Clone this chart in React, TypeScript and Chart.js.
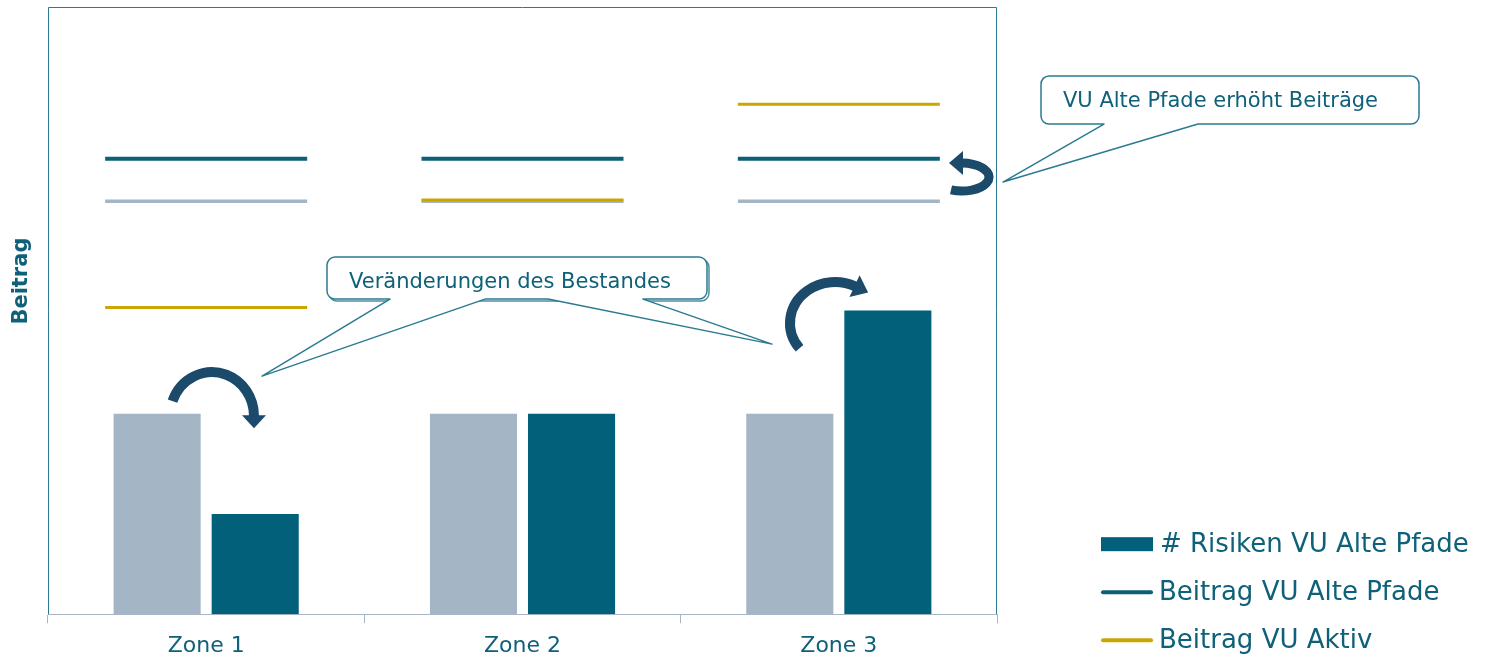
import React, { useEffect, useRef } from 'react';
import { Chart, registerables } from 'chart.js';

Chart.register(...registerables);

// ---- data ----
const categories = ['Zone 1', 'Zone 2', 'Zone 3'];
const risikenAktiv = [33, 33, 33];
const risikenAltePfade = [16.5, 33, 50];
const beitragAltePfade = [75, 75, 75];
const beitragMarkt = [68, 68, 68];
const beitragAktiv = [50.5, 68.2, 84];
const legendLabels = ['# Risiken VU Alte Pfade', 'Beitrag VU Alte Pfade', 'Beitrag VU Aktiv'];
const yTitle = 'Beitrag';
const calloutText1 = 'Veränderungen des Bestandes';
const calloutText2 = 'VU Alte Pfade erhöht Beiträge';

// ---- styles ----
const FONT = '"DejaVu Sans", Verdana, sans-serif';
const TEAL = '#03607a';
const TEAL_LINE = '#0b5f78';
const GREY = '#a4b5c5';
const GOLD = '#c9a700';
const TEXT = '#0e6179';
const BORDER = '#2a7b91';
const AXIS_GREY = '#a9b6c4';
const ARROW = '#1b4a6b';

function drawArcArrow(
  ctx: CanvasRenderingContext2D,
  cx: number, cy: number, rx: number, ry: number,
  a0: number, a1: number, thick: number, headLen: number, headW: number
) {
  const dir = a1 > a0 ? 1 : -1;
  ctx.save();
  ctx.strokeStyle = ARROW;
  ctx.fillStyle = ARROW;
  ctx.lineWidth = thick;
  ctx.lineCap = 'butt';
  ctx.beginPath();
  ctx.ellipse(cx, cy, rx, ry, 0, a0, a1, a1 < a0);
  ctx.stroke();
  const ex = cx + rx * Math.cos(a1);
  const ey = cy + ry * Math.sin(a1);
  let tx = -rx * Math.sin(a1) * dir;
  let ty = ry * Math.cos(a1) * dir;
  const l = Math.hypot(tx, ty);
  tx /= l; ty /= l;
  const nx = -ty, ny = tx;
  ctx.beginPath();
  ctx.moveTo(ex + nx * headW / 2 - tx, ey + ny * headW / 2 - ty);
  ctx.lineTo(ex + tx * headLen, ey + ty * headLen);
  ctx.lineTo(ex - nx * headW / 2 - tx, ey - ny * headW / 2 - ty);
  ctx.closePath();
  ctx.fill();
  ctx.restore();
}

function calloutPath(
  ctx: CanvasRenderingContext2D,
  x0: number, y0: number, x1: number, y1: number, r: number,
  wedges: number[][]
) {
  ctx.beginPath();
  ctx.moveTo(x0 + r, y0);
  ctx.lineTo(x1 - r, y0);
  ctx.arcTo(x1, y0, x1, y0 + r, r);
  ctx.lineTo(x1, y1 - r);
  ctx.arcTo(x1, y1, x1 - r, y1, r);
  wedges.forEach(([bl, br, tx, ty]) => {
    ctx.lineTo(br, y1);
    ctx.lineTo(tx, ty);
    ctx.lineTo(bl, y1);
  });
  ctx.lineTo(x0 + r, y1);
  ctx.arcTo(x0, y1, x0, y1 - r, r);
  ctx.lineTo(x0, y0 + r);
  ctx.arcTo(x0, y0, x0 + r, y0, r);
  ctx.closePath();
}

const decorPlugin = {
  id: 'decor',
  afterDraw(chart: any) {
    const ctx: CanvasRenderingContext2D = chart.ctx;
    const ca = chart.chartArea;
    const sx = ca.width / 949;
    const sy = ca.height / 607;
    const X = (p: number) => ca.left + (p - 48) * sx;
    const Y = (p: number) => ca.top + (p - 7) * sy;

    // plot frame (left, top, right)
    ctx.save();
    ctx.strokeStyle = BORDER;
    ctx.lineWidth = 1;
    ctx.beginPath();
    ctx.moveTo(Math.round(ca.left) + 0.5, ca.bottom);
    ctx.lineTo(Math.round(ca.left) + 0.5, Math.round(ca.top) + 0.5);
    ctx.lineTo(Math.round(ca.right) - 0.5, Math.round(ca.top) + 0.5);
    ctx.lineTo(Math.round(ca.right) - 0.5, ca.bottom);
    ctx.stroke();
    ctx.restore();

    // y axis title
    ctx.save();
    ctx.translate(X(22), Y(281));
    ctx.rotate(-Math.PI / 2);
    ctx.font = `bold 21px ${FONT}`;
    ctx.fillStyle = TEXT;
    ctx.textAlign = 'center';
    ctx.textBaseline = 'middle';
    ctx.fillText(yTitle, 0, 0);
    ctx.restore();

    // curved arrows
    const D = Math.PI / 180;
    drawArcArrow(ctx, X(212), Y(416), 42 * sx, 44 * sy, 200 * D, 360 * D, 10, 12, 24);
    drawArcArrow(ctx, X(835), Y(323), 45 * sx, 41 * sy, 142 * D, 297 * D, 10, 14, 24);
    drawArcArrow(ctx, X(962), Y(177), 27 * sx, 14 * sy, 114 * D, -90 * D, 9, 13, 24);

    // callouts
    ctx.save();
    ctx.lineWidth = 1.5;
    ctx.lineJoin = 'round';
    calloutPath(ctx, X(329), Y(259), X(709), Y(301), 8, []);
    ctx.strokeStyle = '#4f8ea1';
    ctx.stroke();
    calloutPath(ctx, X(327), Y(257), X(707), Y(299), 8, [
      [X(548), X(643), X(772), Y(344)],
      [X(390), X(485), X(262), Y(376)],
    ]);
    ctx.fillStyle = '#ffffff';
    ctx.fill();
    ctx.strokeStyle = BORDER;
    ctx.stroke();
    calloutPath(ctx, X(1041), Y(76), X(1419), Y(124), 8, [
      [X(1104), X(1198), X(1003), Y(182)],
    ]);
    ctx.fillStyle = '#ffffff';
    ctx.fill();
    ctx.strokeStyle = BORDER;
    ctx.stroke();
    ctx.font = `21px ${FONT}`;
    ctx.fillStyle = TEXT;
    ctx.textAlign = 'left';
    ctx.textBaseline = 'middle';
    ctx.fillText(calloutText1, X(349), Y(282));
    ctx.fillText(calloutText2, X(1063), Y(102));
    ctx.restore();

    // legend
    ctx.save();
    ctx.font = `26px ${FONT}`;
    ctx.textAlign = 'left';
    ctx.textBaseline = 'middle';
    ctx.fillStyle = TEAL;
    ctx.fillRect(X(1101), Y(537), 52 * sx, 14);
    ctx.lineCap = 'round';
    ctx.lineWidth = 4;
    ctx.strokeStyle = TEAL_LINE;
    ctx.beginPath();
    ctx.moveTo(X(1103), Y(592));
    ctx.lineTo(X(1151), Y(592));
    ctx.stroke();
    ctx.strokeStyle = GOLD;
    ctx.beginPath();
    ctx.moveTo(X(1103), Y(640));
    ctx.lineTo(X(1151), Y(640));
    ctx.stroke();
    ctx.fillStyle = TEXT;
    ctx.fillText(legendLabels[0], X(1160), Y(545));
    ctx.fillText(legendLabels[1], X(1159), Y(593));
    ctx.fillText(legendLabels[2], X(1159), Y(641));
    ctx.restore();
  },
};

export default function App() {
  const ref = useRef<HTMLCanvasElement>(null);
  useEffect(() => {
    if (!ref.current) return;
    const lineDs = (label: string, data: number[], color: string, w: number, order: number) => ({
      type: 'line' as const,
      label,
      data,
      showLine: false,
      pointStyle: 'line',
      pointRadius: 101,
      pointHoverRadius: 101,
      pointBorderWidth: w,
      pointHoverBorderWidth: w,
      pointBorderColor: color,
      pointBackgroundColor: color,
      borderColor: color,
      backgroundColor: color,
      order,
      clip: false,
    });
    const chart = new Chart(ref.current, {
      type: 'bar',
      data: {
        labels: categories,
        datasets: [
          lineDs('Beitrag VU Aktiv', beitragAktiv, GOLD, 3, 1) as any,
          lineDs('Beitrag VU Alte Pfade', beitragAltePfade, TEAL_LINE, 4, 2) as any,
          lineDs('Beitrag Markt', beitragMarkt, GREY, 3.5, 3) as any,
          {
            label: '# Risiken VU Aktiv',
            data: risikenAktiv,
            backgroundColor: GREY,
            categoryPercentage: 0.62,
            barPercentage: 0.888,
            order: 4,
          },
          {
            label: '# Risiken VU Alte Pfade',
            data: risikenAltePfade,
            backgroundColor: TEAL,
            categoryPercentage: 0.62,
            barPercentage: 0.888,
            order: 5,
          },
        ],
      },
      options: {
        animation: false,
        responsive: true,
        maintainAspectRatio: false,
        devicePixelRatio: 1,
        layout: { autoPadding: false, padding: { left: 48, right: 500, top: 7, bottom: 0 } },
        plugins: {
          legend: { display: false },
          tooltip: { enabled: false },
        },
        events: [],
        scales: {
          x: {
            grid: {
              offset: true,
              drawOnChartArea: false,
              tickLength: 9,
              color: AXIS_GREY,
            },
            border: { color: AXIS_GREY, width: 1 },
            ticks: {
              color: TEXT,
              padding: 13,
              font: { family: FONT, size: 22, lineHeight: 0.9 },
            },
          },
          y: {
            display: false,
            min: 0,
            max: 100,
          },
        },
      },
      plugins: [decorPlugin],
    });
    return () => chart.destroy();
  }, []);
  return (
    <div style={{ position: 'fixed', left: 0, top: 0, width: 1497, height: 669, background: '#fff' }}>
      <canvas ref={ref} />
    </div>
  );
}
